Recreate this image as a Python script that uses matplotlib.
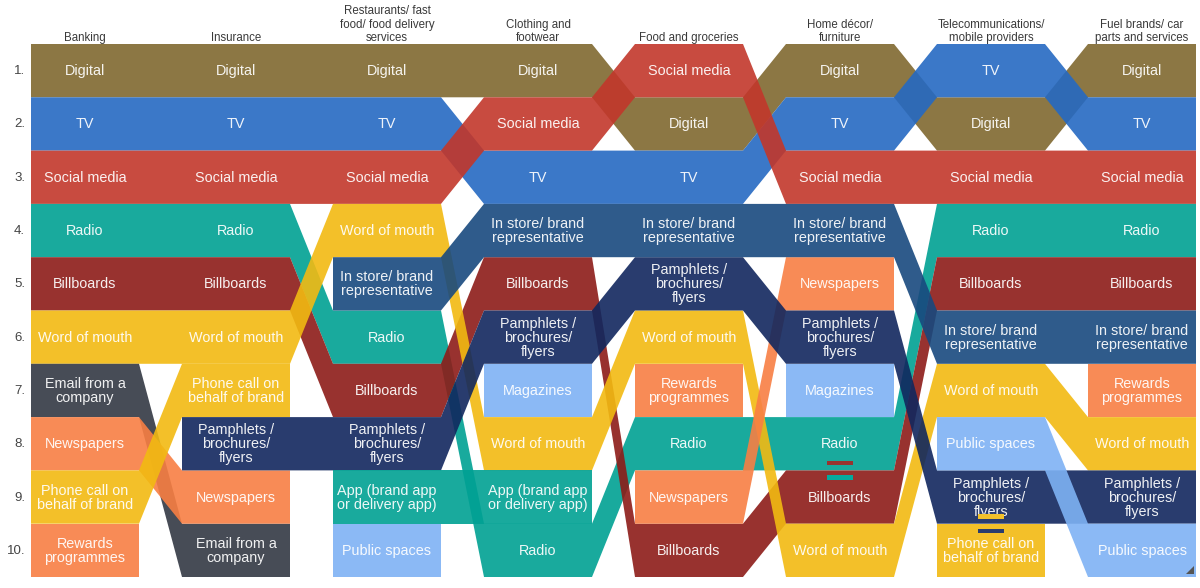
import matplotlib
matplotlib.use("Agg")
import matplotlib.pyplot as plt
from matplotlib.patches import Polygon, Rectangle
import numpy as np

plt.rcParams['font.family'] = ['Liberation Sans', 'DejaVu Sans']

# ---------------- data ----------------
categories = ["Banking", "Insurance",
              "Restaurants/ fast\nfood/ food delivery\nservices",
              "Clothing and\nfootwear", "Food and groceries",
              "Home décor/\nfurniture",
              "Telecommunications/\nmobile providers",
              "Fuel brands/ car\nparts and services"]
rank_labels = ["1.", "2.", "3.", "4.", "5.", "6.", "7.", "8.", "9.", "10."]

banking = ["Digital", "TV", "Social media", "Radio", "Billboards", "Word of mouth",
           "Email from a company", "Newspapers", "Phone call on behalf of brand",
           "Rewards programmes"]
insurance = ["Digital", "TV", "Social media", "Radio", "Billboards", "Word of mouth",
             "Phone call on behalf of brand", "Pamphlets / brochures/ flyers",
             "Newspapers", "Email from a company"]
restaurants = ["Digital", "TV", "Social media", "Word of mouth",
               "In store/ brand representative", "Radio", "Billboards",
               "Pamphlets / brochures/ flyers", "App (brand app or delivery app)",
               "Public spaces"]
clothing = ["Digital", "Social media", "TV", "In store/ brand representative",
            "Billboards", "Pamphlets / brochures/ flyers", "Magazines",
            "Word of mouth", "App (brand app or delivery app)", "Radio"]
food = ["Social media", "Digital", "TV", "In store/ brand representative",
        "Pamphlets / brochures/ flyers", "Word of mouth", "Rewards programmes",
        "Radio", "Newspapers", "Billboards"]
home = ["Digital", "TV", "Social media", "In store/ brand representative",
        "Newspapers", "Pamphlets / brochures/ flyers", "Magazines", "Radio",
        "Billboards", "Word of mouth"]
telecom = ["TV", "Digital", "Social media", "Radio", "Billboards",
           "In store/ brand representative", "Word of mouth", "Public spaces",
           "Pamphlets / brochures/ flyers", "Phone call on behalf of brand"]
fuel = ["Digital", "TV", "Social media", "Radio", "Billboards",
        "In store/ brand representative", "Rewards programmes", "Word of mouth",
        "Pamphlets / brochures/ flyers", "Public spaces"]
rankings = [banking, insurance, restaurants, clothing, food, home, telecom, fuel]

# tied ranks: (column index, upper rank, lower rank)
ties = [(5, 8, 9), (6, 9, 10)]

display = {
    "Email from a company": "Email from a\ncompany",
    "Phone call on behalf of brand": "Phone call on\nbehalf of brand",
    "Rewards programmes": "Rewards\nprogrammes",
    "Pamphlets / brochures/ flyers": "Pamphlets /\nbrochures/\nflyers",
    "In store/ brand representative": "In store/ brand\nrepresentative",
    "App (brand app or delivery app)": "App (brand app\nor delivery app)",
}

colors = {
    "Digital": "#8d7745",
    "TV": "#3b78c8",
    "Social media": "#c84b40",
    "Radio": "#04aa9e",
    "App (brand app or delivery app)": "#04aa9e",
    "Billboards": "#98332f",
    "Word of mouth": "#f3c12a",
    "Phone call on behalf of brand": "#f3c12a",
    "Email from a company": "#474c56",
    "Newspapers": "#f98c56",
    "Rewards programmes": "#f98c56",
    "Pamphlets / brochures/ flyers": "#293d6e",
    "In store/ brand representative": "#2f5b8b",
    "Public spaces": "#8bbaf5",
    "Magazines": "#8bbaf5",
}

# ---------------- layout ----------------
W, H = 1200, 588
left0, col_step, box_w = 31, 151, 108
top0, row_h = 44, 53.3
ALPHA = 0.9

def base_color(hexc):
    rgb = np.array(matplotlib.colors.to_rgb(hexc))
    b = 1 - (1 - rgb) / ALPHA
    return tuple(np.clip(b, 0, 1))

def col_left(i):
    return left0 + col_step * i

def row_top(r):
    return top0 + row_h * r

fig = plt.figure(figsize=(12, 5.88), dpi=100)
ax = fig.add_axes([0, 0, 1, 1])
ax.set_xlim(0, W)
ax.set_ylim(H, 0)
ax.axis('off')

items = []
for col in rankings:
    for it in col:
        if it not in items:
            items.append(it)

ncol = len(rankings)
for it in items:
    runs, cur = [], []
    for c in range(ncol):
        if it in rankings[c]:
            cur.append(c)
        else:
            if cur:
                runs.append(cur)
            cur = []
    if cur:
        runs.append(cur)
    for run in runs:
        topv, botv = [], []
        for c in run:
            r = rankings[c].index(it)
            xl, xr = col_left(c), col_left(c) + box_w
            yt, yb = row_top(r), row_top(r + 1)
            topv += [(xl, yt), (xr, yt)]
            botv += [(xl, yb), (xr, yb)]
        verts = topv + botv[::-1]
        ax.add_patch(Polygon(verts, closed=True, facecolor=base_color(colors[it]),
                             edgecolor='none', alpha=ALPHA, zorder=2))

# labels in boxes
for c, col in enumerate(rankings):
    cx = col_left(c) + box_w / 2
    for r, it in enumerate(col):
        cy = row_top(r) + row_h / 2 + 0.5
        ax.text(cx, cy, display.get(it, it), ha='center', va='center',
                color='white', alpha=0.92, fontsize=10.4, linespacing=1.0, zorder=5)

# tie marks
for c, ra, rb in ties:
    cx = col_left(c) + box_w / 2
    yb = row_top(ra)
    up_item = rankings[c][ra - 1]
    lo_item = rankings[c][rb - 1]
    ax.add_patch(Rectangle((cx - 13, yb - 9.5), 26, 4.5, facecolor=colors[lo_item],
                           edgecolor='none', zorder=6))
    ax.add_patch(Rectangle((cx - 13, yb + 5), 26, 4.5, facecolor=colors[up_item],
                           edgecolor='none', zorder=6))

# column headers
for c, name in enumerate(categories):
    cx = col_left(c) + box_w / 2
    ax.text(cx, 43.8, name, ha='center', va='bottom', color='#3a3a3a',
            fontsize=8.3, linespacing=1.13)

# row labels
for r, lab in enumerate(rank_labels):
    ax.text(25, row_top(r) + row_h / 2 + 0.5, lab, ha='right', va='center',
            color='#444444', fontsize=9.5)

# resize handle glyph
ax.add_patch(Polygon([(1186, 574), (1194, 574), (1194, 566)], closed=True,
                     facecolor='#555555', edgecolor='none', zorder=7))

fig.savefig("out.png", dpi=100)
